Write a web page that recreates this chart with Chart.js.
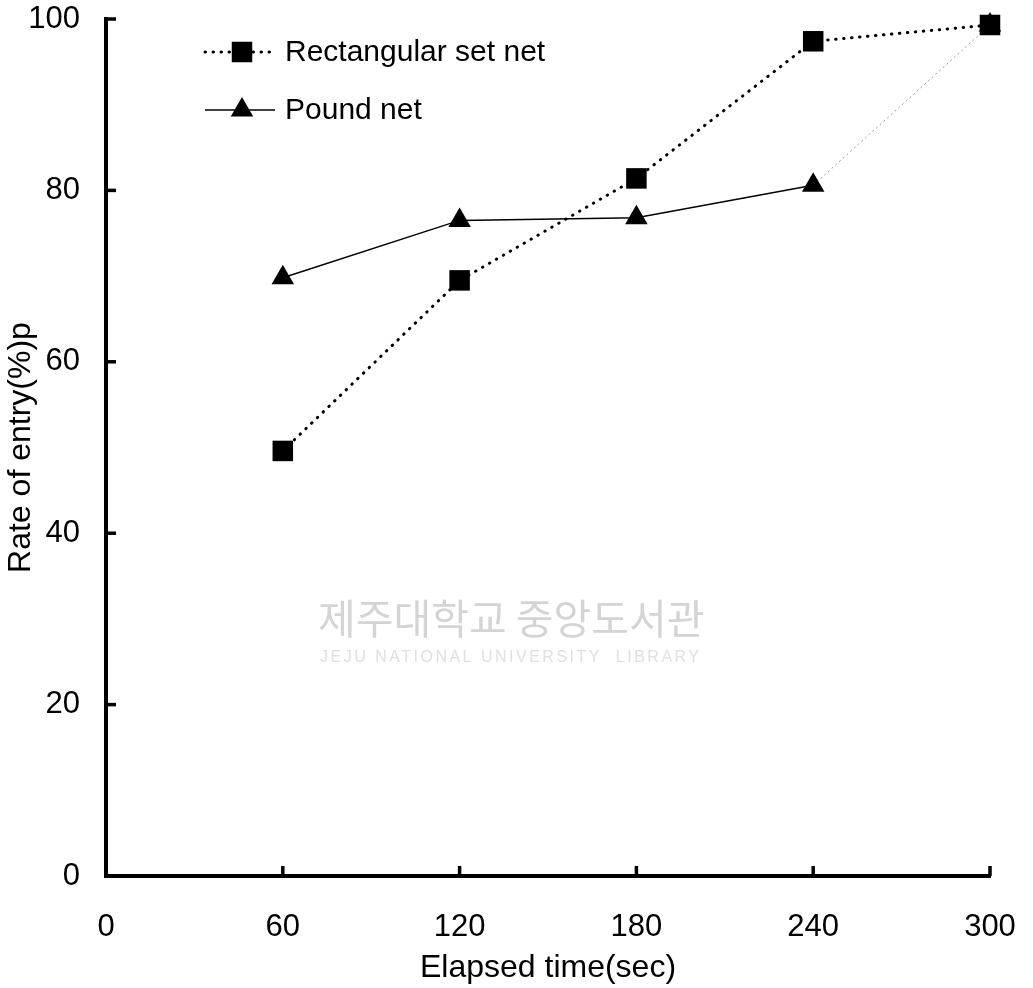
<!DOCTYPE html>
<html lang="en">
<head>
    <meta charset="UTF-8">
    <title>Rate of entry</title>
    <script src="https://cdn.jsdelivr.net/npm/chart.js"></script>
    <style>
        body {
            margin: 0;
            background-color: #ffffff;
        }
        #wrap {
            width: 1033px;
            height: 988px;
        }
    </style>
</head>
<body>
    <div id="wrap"><canvas id="lineChart"></canvas></div>

    <script>
        // values
        const elapsed = [60, 120, 180, 240, 300];
        const rectangularSetNet = [49.6, 69.5, 81.4, 97.4, 99.3];
        const poundNet = [69.8, 76.5, 76.8, 80.6, 99.3];
        const xTicks = [0, 60, 120, 180, 240, 300];
        const yTicks = [0, 20, 40, 60, 80, 100];

        const FONT = "'Liberation Sans', Arial, sans-serif";

        // short tick marks pointing into the plot, like the original
        const innerTicks = {
            id: 'innerTicks',
            afterDraw(chart) {
                const { ctx, scales: { x, y }, chartArea } = chart;
                ctx.save();
                ctx.strokeStyle = '#000';
                ctx.lineWidth = 3.5;
                xTicks.forEach(v => {
                    if (v === 0) return;
                    const px = x.getPixelForValue(v);
                    ctx.beginPath();
                    ctx.moveTo(px, chartArea.bottom);
                    ctx.lineTo(px, chartArea.bottom - 10);
                    ctx.stroke();
                });
                yTicks.forEach(v => {
                    if (v === 0) return;
                    const py = y.getPixelForValue(v);
                    ctx.beginPath();
                    ctx.moveTo(chartArea.left, py);
                    ctx.lineTo(chartArea.left + 10, py);
                    ctx.stroke();
                });
                ctx.restore();
            }
        };

        // legend drawn inside the plot: line sample with marker in the middle
        const insideLegend = {
            id: 'insideLegend',
            afterDraw(chart) {
                const { ctx } = chart;
                const rows = [
                    { ds: chart.data.datasets[0], y: 52 },
                    { ds: chart.data.datasets[1], y: 110 }
                ];
                ctx.save();
                rows.forEach(r => {
                    ctx.beginPath();
                    ctx.setLineDash(r.ds.borderDash || []);
                    ctx.lineCap = r.ds.borderCapStyle || 'butt';
                    ctx.lineWidth = r.ds.borderWidth;
                    ctx.strokeStyle = r.ds.borderColor;
                    ctx.moveTo(205, r.y);
                    ctx.lineTo(275, r.y);
                    ctx.stroke();
                    ctx.setLineDash([]);
                    ctx.fillStyle = '#000';
                    Chart.helpers.drawPoint(ctx, {
                        pointStyle: r.ds.pointStyle,
                        radius: r.ds.pointRadius,
                        rotation: 0,
                        borderWidth: 0
                    }, 242, r.y);
                    ctx.font = '30px ' + FONT;
                    ctx.textBaseline = 'middle';
                    ctx.fillText(r.ds.label, 285, r.y + 1);
                });
                ctx.restore();
            }
        };

        // faint library watermark sitting behind the data
        const watermark = {
            id: 'watermark',
            beforeDatasetsDraw(chart) {
                const { ctx } = chart;
                ctx.save();
                ctx.fillStyle = '#d4d4d4';
                ctx.textBaseline = 'middle';
                ctx.font = "41px 'Noto Sans CJK KR'";
                ctx.fillText('제주대학교 중앙도서관', 318, 618);
                ctx.fillStyle = '#e0e0e0';
                ctx.font = '16px ' + FONT;
                ctx.letterSpacing = '2.5px';
                ctx.fillText('JEJU NATIONAL UNIVERSITY  LIBRARY', 320, 658);
                ctx.restore();
            }
        };

        // drop the automatic room Chart.js keeps for overhanging labels
        const noOverhangX = s => { s.height = 112; s.paddingLeft = 0; s.paddingRight = 0; };
        const noOverhangY = s => { s.width = 106; s.paddingTop = 0; s.paddingBottom = 0; };

        const ctx = document.getElementById('lineChart').getContext('2d');
        new Chart(ctx, {
            type: 'line',
            data: {
                labels: elapsed,
                datasets: [{
                    label: 'Rectangular set net',
                    data: elapsed.map((t, i) => ({ x: t, y: rectangularSetNet[i] })),
                    borderColor: '#000',
                    borderWidth: 3,
                    borderDash: [0.5, 7.5],
                    borderCapStyle: 'round',
                    pointStyle: 'rect',
                    pointRadius: 14.5,
                    pointBackgroundColor: '#000',
                    pointBorderWidth: 0,
                    tension: 0,
                    clip: false,
                    order: 0
                }, {
                    label: 'Pound net',
                    data: elapsed.map((t, i) => ({ x: t, y: poundNet[i] })),
                    borderColor: '#000',
                    borderWidth: 1.5,
                    pointStyle: 'triangle',
                    pointRadius: 13,
                    pointBackgroundColor: '#000',
                    pointBorderWidth: 0,
                    tension: 0,
                    clip: false,
                    order: 1,
                    segment: {
                        // last leg is a faint grey dotted line in the original
                        borderColor: c => c.p1DataIndex === 4 ? '#9a9a9a' : undefined,
                        borderDash: c => c.p1DataIndex === 4 ? [2, 3] : undefined,
                        borderWidth: c => c.p1DataIndex === 4 ? 1 : undefined
                    }
                }]
            },
            options: {
                responsive: true,
                maintainAspectRatio: false,
                animation: false,
                layout: {
                    padding: { top: 19, right: 43, left: 0, bottom: 0 }
                },
                plugins: {
                    legend: { display: false },
                    tooltip: { enabled: false }
                },
                scales: {
                    x: {
                        type: 'linear',
                        min: 0,
                        max: 300,
                        afterFit: noOverhangX,
                        afterBuildTicks: s => { s.ticks = xTicks.map(v => ({ value: v })); },
                        border: { color: '#000', width: 4 },
                        grid: { display: false, drawTicks: false },
                        ticks: {
                            padding: 33,
                            maxRotation: 0,
                            color: '#000',
                            font: { family: FONT, size: 31 }
                        },
                        title: {
                            display: true,
                            text: 'Elapsed time(sec)',
                            color: '#000',
                            padding: { top: 0, bottom: 1 },
                            font: { family: FONT, size: 32 }
                        }
                    },
                    y: {
                        min: 0,
                        max: 100,
                        afterFit: noOverhangY,
                        afterBuildTicks: s => { s.ticks = yTicks.map(v => ({ value: v })); },
                        border: { color: '#000', width: 4 },
                        grid: { display: false, drawTicks: false },
                        ticks: {
                            padding: 26,
                            color: '#000',
                            font: { family: FONT, size: 31 }
                        },
                        title: {
                            display: true,
                            text: 'Rate of entry(%)p',
                            color: '#000',
                            padding: { top: 2, bottom: 0 },
                            font: { family: FONT, size: 32 }
                        }
                    }
                }
            },
            plugins: [watermark, innerTicks, insideLegend]
        });
    </script>
</body>
</html>
